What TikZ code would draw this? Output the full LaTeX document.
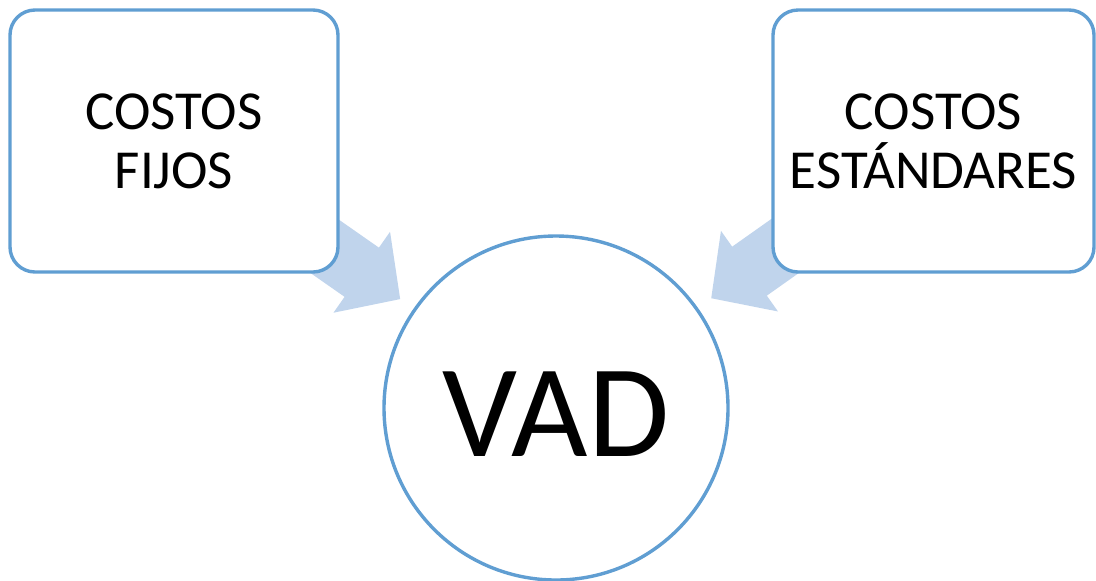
\documentclass[tikz,border=0pt]{standalone}
\usepackage{fontspec}
\setmainfont{Carlito}
\usetikzlibrary{arrows.meta,calc}
\definecolor{edgeblue}{RGB}{96,158,210}
\definecolor{arrowblue}{RGB}{192,212,236}
\tikzset{
  box/.style={draw=edgeblue, line width=1.7pt, fill=white, rounded corners=12.5pt,
    minimum height=131pt, align=center, font=\fontsize{27.5}{29.5}\selectfont},
  hub/.style={circle, draw=edgeblue, line width=1.7pt, fill=white, minimum size=172pt,
    inner sep=0pt, text height=48pt, text depth=0pt, font=\fontsize{66}{72}\selectfont},
  bigarrow/.style={draw=arrowblue, line width=30pt,
    -{Triangle[width=48pt,length=23.5pt,fill=arrowblue]}}
}
\begin{document}
\begin{tikzpicture}[x=0.5pt,y=-0.5pt]
\useasboundingbox (0,0) rectangle (1096,580);
\coordinate (Lc) at (174,141);
\coordinate (Rc) at (933.5,141);
\coordinate (Cc) at (556,408);
\draw[bigarrow] (Lc) -- ($(Cc)!95pt!(Lc)$);
\draw[bigarrow] (Rc) -- ($(Cc)!95pt!(Rc)$);
\node[box, minimum width=164pt] (L) at (Lc) {COSTOS\\FIJOS};
\node[box, minimum width=160.5pt] (R) at (Rc) {COSTOS\\ESTÁNDARES};
\node[hub] (C) at (Cc) {VAD};
\end{tikzpicture}
\end{document}
